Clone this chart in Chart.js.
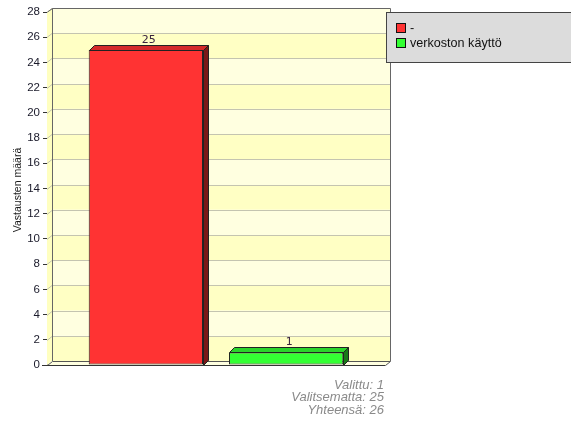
<!DOCTYPE html>
<html>
<head>
<meta charset="utf-8">
<script src="https://cdn.jsdelivr.net/npm/chart.js@4.4.1/dist/chart.umd.min.js"></script>
<style>
  html, body { margin: 0; padding: 0; background: #fff; }
  #wrap { width: 571px; height: 422px; position: relative; }
</style>
</head>
<body>
<div id="wrap"><canvas id="myChart" width="571" height="422"></canvas></div>
<script>
const seriesNames = ["-", "verkoston käyttö"];
const seriesValues = [25, 1];
const seriesColors = ["#ff3333", "#33ff33"];
const topColors = ["#d42a2a", "#2ad42a"];
const sideColors = ["#7a1818", "#187a18"];
const yTicks = { min: 0, max: 28, step: 2 };
const yTitle = "Vastausten määrä";
const summaryLines = ["Valittu: 1", "Valitsematta: 25", "Yhteensä: 26"];

// depth of the fake 3d box
const DX = 5, DY = 4;

const box3d = {
  id: "box3d",
  beforeDatasetsDraw(chart) {
    const { ctx, chartArea: a, scales: { y } } = chart;
    ctx.save();
    // back wall bands
    for (let v = yTicks.min; v < yTicks.max; v += yTicks.step) {
      const y0 = y.getPixelForValue(v) - DY;
      const y1 = y.getPixelForValue(v + yTicks.step) - DY;
      ctx.fillStyle = (v / yTicks.step) % 2 === 0 ? "#ffffc4" : "#ffffe0";
      ctx.fillRect(a.left + DX, y1, a.right - a.left, y0 - y1);
    }
    // left side wall
    ctx.fillStyle = "#ffffc0";
    ctx.beginPath();
    ctx.moveTo(a.left, a.top);
    ctx.lineTo(a.left + DX, a.top - DY);
    ctx.lineTo(a.left + DX, a.bottom - DY);
    ctx.lineTo(a.left, a.bottom);
    ctx.closePath();
    ctx.fill();
    // grid lines on back and side
    ctx.strokeStyle = "#c4c4b0";
    ctx.lineWidth = 1;
    for (let v = yTicks.min + yTicks.step; v <= yTicks.max; v += yTicks.step) {
      const py = Math.round(y.getPixelForValue(v)) + 0.5;
      ctx.beginPath();
      ctx.moveTo(a.left, py);
      ctx.lineTo(a.left + DX, py - DY);
      ctx.lineTo(a.right + DX, py - DY);
      ctx.stroke();
    }
    // floor
    ctx.fillStyle = "#ffffe0";
    ctx.strokeStyle = "#555";
    ctx.beginPath();
    ctx.moveTo(a.left + 0.5, a.bottom + 0.5);
    ctx.lineTo(a.right + 0.5, a.bottom + 0.5);
    ctx.lineTo(a.right + DX + 0.5, a.bottom - DY + 0.5);
    ctx.lineTo(a.left + DX + 0.5, a.bottom - DY + 0.5);
    ctx.closePath();
    ctx.fill();
    ctx.stroke();
    // wall outlines
    ctx.strokeStyle = "#666";
    ctx.beginPath();
    ctx.moveTo(a.left + DX + 0.5, a.bottom - DY);
    ctx.lineTo(a.left + DX + 0.5, a.top - DY + 0.5);
    ctx.lineTo(a.right + DX + 0.5, a.top - DY + 0.5);
    ctx.lineTo(a.right + DX + 0.5, a.bottom - DY);
    ctx.moveTo(a.left + 0.5, a.top);
    ctx.lineTo(a.left + DX + 0.5, a.top - DY + 0.5);
    ctx.stroke();
    ctx.restore();
  },
  afterDatasetsDraw(chart) {
    const { ctx } = chart;
    ctx.save();
    chart.data.datasets.forEach((ds, i) => {
      chart.getDatasetMeta(i).data.forEach((bar) => {
        const l = Math.round(bar.x - bar.width / 2) + 0.5;
        const r = Math.round(bar.x + bar.width / 2) + 0.5;
        const t = Math.round(bar.y) + 0.5;
        const b = Math.round(bar.base) + 0.5;
        ctx.strokeStyle = "#222";
        ctx.lineWidth = 1;
        ctx.fillStyle = topColors[i];
        ctx.beginPath();
        ctx.moveTo(l, t);
        ctx.lineTo(l + DX, t - DY - 1);
        ctx.lineTo(r + DX, t - DY - 1);
        ctx.lineTo(r, t);
        ctx.closePath();
        ctx.fill();
        ctx.stroke();
        ctx.fillStyle = sideColors[i];
        ctx.beginPath();
        ctx.moveTo(r, t);
        ctx.lineTo(r + DX, t - DY - 1);
        ctx.lineTo(r + DX, b - DY - 1);
        ctx.lineTo(r, b);
        ctx.closePath();
        ctx.fill();
        ctx.stroke();
        // value label
        ctx.fillStyle = "#3a2440";
        ctx.font = "11px 'DejaVu Sans'";
        ctx.textAlign = "center";
        ctx.textBaseline = "bottom";
        ctx.fillText(String(ds.data[0]), bar.x + 3, t - DY - 1);
      });
    });
    ctx.restore();
  },
  afterDraw(chart) {
    const { ctx, chartArea: a } = chart;
    ctx.save();
    // front axis lines
    ctx.strokeStyle = "#333";
    ctx.beginPath();
    ctx.moveTo(a.left - 5, a.bottom + 0.5);
    ctx.lineTo(a.right, a.bottom + 0.5);
    ctx.stroke();
    // legend
    ctx.fillStyle = "#dcdcdc";
    ctx.fillRect(386, 12, 190, 50);
    ctx.strokeStyle = "#444";
    ctx.strokeRect(386.5, 12.5, 190, 50);
    ctx.font = "12.6px 'Liberation Sans'";
    ctx.textAlign = "left";
    ctx.textBaseline = "middle";
    seriesNames.forEach((name, i) => {
      const cy = 28 + i * 15;
      ctx.fillStyle = seriesColors[i];
      ctx.fillRect(396, cy - 4, 9, 9);
      ctx.strokeStyle = "#111";
      ctx.strokeRect(396.5, cy - 4.5, 9, 9);
      ctx.fillStyle = "#111";
      ctx.fillText(name, 410, cy + 0.5);
    });
    // y title
    ctx.translate(18, 190);
    ctx.rotate(-Math.PI / 2);
    ctx.textAlign = "center";
    ctx.font = "10.5px 'Liberation Sans'";
    ctx.fillStyle = "#1a1a1a";
    ctx.fillText(yTitle, 0, 0);
    ctx.setTransform(1, 0, 0, 1, 0, 0);
    // summary text
    ctx.font = "italic 13px 'Liberation Sans'";
    ctx.fillStyle = "#8a8a8a";
    ctx.textAlign = "right";
    summaryLines.forEach((s, i) => ctx.fillText(s, 384, 385 + i * 12.5));
    ctx.restore();
  }
};

const ctx = document.getElementById("myChart").getContext("2d");
new Chart(ctx, {
  type: "bar",
  data: {
    labels: [""],
    datasets: seriesNames.map((name, i) => ({
      label: name,
      data: [seriesValues[i]],
      backgroundColor: seriesColors[i],
      borderColor: "#222",
      borderWidth: 1,
      borderSkipped: false,
      categoryPercentage: 0.83,
      barPercentage: 0.815
    }))
  },
  options: {
    responsive: false,
    animation: false,
    devicePixelRatio: 1,
    layout: { padding: { left: 10, right: 186, top: 12, bottom: 57 } },
    plugins: { legend: { display: false }, tooltip: { enabled: false } },
    scales: {
      x: { display: false },
      y: {
        min: yTicks.min,
        max: yTicks.max,
        afterFit(scale) { scale.width = 37; },
        ticks: {
          stepSize: yTicks.step,
          color: "#1a1a2a",
          padding: 3,
          font: { family: "'Liberation Sans'", size: 11.5 }
        },
        border: { display: true, color: "#666" },
        grid: { drawOnChartArea: false, drawTicks: true, tickLength: 4, color: "#333" }
      }
    }
  },
  plugins: [box3d]
});
</script>
</body>
</html>
